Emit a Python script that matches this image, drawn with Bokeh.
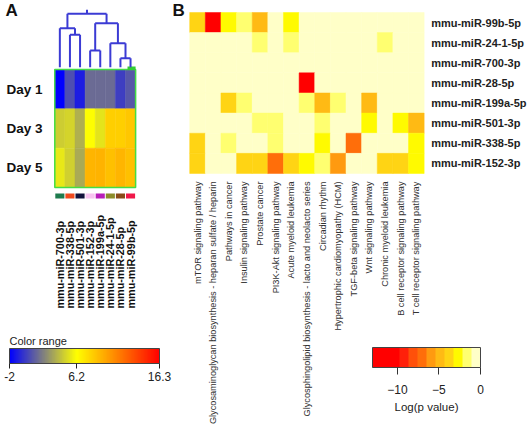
import math
import numpy as np
from bokeh.plotting import figure
from bokeh.layouts import row
from bokeh.models import (ColumnDataSource, LinearColorMapper, ColorBar, FixedTicker,
                          LinearAxis, Range1d)
from bokeh.transform import transform
from bokeh.core.properties import value
from bokeh.embed import file_html
from bokeh.resources import INLINE

FONT = "Liberation Sans"

# ---------------- Panel A data ----------------
mirs_a = ["mmu-miR-700-3p", "mmu-miR-338-5p", "mmu-miR-501-3p", "mmu-miR-152-3p",
          "mmu-miR-199a-5p", "mmu-miR-24-1-5p", "mmu-miR-28-5p", "mmu-miR-99b-5p"]
days = ["Day 1", "Day 3", "Day 5"]
day1 = [-2.0, 0.55, -1.0, 1.5, 1.5, 1.5, 0.05, 0.8]
day3 = [4.6, 4.8, 3.7, 6.2, 5.3, 8.1, 8.1, 8.4]
day5 = [5.5, 4.7, 3.5, 9.1, 9.2, 8.7, 9.1, 8.7]
strip_colors = ["#1E7B4E", "#F04A1E", "#12123C", "#F8C4F0",
                "#B81EB8", "#8C8C2A", "#8A4A18", "#F0184A"]
# dendrogram linkage (left child, right child, height); leaves 0..7, new nodes 8..
linkage = [(1, 2, 8.24), (3, 4, 4.25), (6, 7, 2.29), (5, 10, 6.1),
           (0, 8, 9.92), (9, 11, 11.19), (12, 13, 13.58)]
range_low, range_mid, range_high = -2.0, 6.2, 16.3
range_ticks = [range_low, range_mid, range_high]

# ---------------- Panel B data ----------------
pathways = ["mTOR signaling pathway",
            "Glycosaminoglycan biosynthesis - heparan sulfate / heparin",
            "Pathways in cancer",
            "Insulin signaling pathway",
            "Prostate cancer",
            "PI3K-Akt signaling pathway",
            "Acute myeloid leukemia",
            "Glycosphingolipid biosynthesis - lacto and neolacto series",
            "Circadian rhythm",
            "Hypertrophic cardiomyopathy (HCM)",
            "TGF-beta signaling pathway",
            "Wnt signaling pathway",
            "Chronic myeloid leukemia",
            "B cell receptor signaling pathway",
            "T cell receptor signaling pathway"]
mirs_b = ["mmu-miR-99b-5p", "mmu-miR-24-1-5p", "mmu-miR-700-3p", "mmu-miR-28-5p",
          "mmu-miR-199a-5p", "mmu-miR-501-3p", "mmu-miR-338-5p", "mmu-miR-152-3p"]
lp_99b = [-4, -12, -2.8, -1.6, -5, 0, -2.8, 0, 0, 0, 0, 0, 0, 0, 0]
lp_24 = [0, 0, 0, 0, -1.6, 0, -1.6, 0, 0, 0, 0, 0, -1.6, 0, 0]
lp_700 = [0, 0, 0, 0, 0, 0, 0, 0, 0, 0, 0, 0, 0, 0, 0]
lp_28 = [0, 0, 0, 0, 0, 0, 0, -12, 0, 0, 0, 0, 0, 0, 0]
lp_199a = [0, 0, -4, -1.6, 0, 0, 0, -1.6, -5, -1.6, 0, -5, 0, 0, 0]
lp_501 = [0, 0, 0, 0, -1.6, -1.6, 0, 0, -1.6, 0, 0, -2.8, 0, -2.8, -5]
lp_338 = [-4, 0, -1.6, 0, 0, -1.6, 0, 0, -2.8, 0, -7, 0, 0, 0, -2.8]
lp_152 = [-4, 0, 0, -4, -4, -7, -4, -2.8, -1.6, -6, 0, 0, -4, -4, -2.8]
logp_rows = [lp_99b, lp_24, lp_700, lp_28, lp_199a, lp_501, lp_338, lp_152]
logp_ticks = [-10, -5, 0]
logp_low, logp_high = -13, 0
pal_b = ["#FF0000", "#FF0000", "#FF0000", "#FF200A", "#FF500A", "#FF6E0A",
         "#FF9A10", "#FFBA14", "#FFD414", "#FFFA00", "#FFFF70", "#FFFFC8"]


# ---------------- palettes ----------------
def hexc(rgb):
    return "#%02X%02X%02X" % tuple(int(round(c)) for c in rgb)


def lerp(a, b, t):
    return [a[i] + (b[i] - a[i]) * t for i in range(3)]


BLUE, YEL, RED = (0, 0, 255), (255, 255, 0), (255, 0, 0)
pal_a = []
for v in np.linspace(range_low, range_high, 256):
    if v <= range_mid:
        pal_a.append(hexc(lerp(BLUE, YEL, (v - range_low) / (range_mid - range_low))))
    else:
        pal_a.append(hexc(lerp(YEL, RED, (v - range_mid) / (range_high - range_mid))))

map_a = LinearColorMapper(palette=pal_a, low=range_low, high=range_high)
map_b = LinearColorMapper(palette=pal_b, low=logp_low, high=logp_high)

# ================= Panel A figure =================
pa = figure(width=188, height=426, x_range=Range1d(-5.376, 13.238),
            y_range=Range1d(-6.077, 4.755), output_backend="svg",
            toolbar_location=None, x_axis_location=None, y_axis_location=None,
            min_border=0, outline_line_color=None)
pa.grid.visible = False

xs, ys, vs = [], [], []
for r, vals in enumerate([day1, day3, day5]):
    for c, v in enumerate(vals):
        xs.append(c + 0.5)
        ys.append(2.5 - r)
        vs.append(v)
src_a = ColumnDataSource(dict(x=xs, y=ys, v=vs))
pa.rect(x="x", y="y", width=1, height=1, source=src_a,
        fill_color=transform("v", map_a), line_color=transform("v", map_a), line_width=0.5)
# green frame
pa.rect(x=[4], y=[1.5], width=8, height=3, fill_color=None, line_color="#44DD44", line_width=1.5)
pa.segment(x0=[7.2], y0=[3.03], x1=[8.0], y1=[3.03], line_color="#33CC33", line_width=3.5)

# colour strip
pa.rect(x=[i + 0.5 for i in range(8)], y=[-0.216] * 8, width=0.9, height=0.13,
        fill_color=strip_colors, line_color=None)

# dendrogram
leaf_x = {i: i + 0.5 for i in range(8)}
node_h = {i: 0.0 for i in range(8)}
base, scale = 3.059, 0.1
seg_x0, seg_y0, seg_x1, seg_y1 = [], [], [], []
nid = 8
for a, b, h in linkage:
    xa_, xb_ = leaf_x[a], leaf_x[b]
    for xc, hc in ((xa_, node_h[a]), (xb_, node_h[b])):
        seg_x0.append(xc); seg_y0.append(base + hc * scale)
        seg_x1.append(xc); seg_y1.append(base + h * scale)
    seg_x0.append(xa_); seg_y0.append(base + h * scale)
    seg_x1.append(xb_); seg_y1.append(base + h * scale)
    leaf_x[nid] = (xa_ + xb_) / 2
    node_h[nid] = h
    nid += 1
top = nid - 1
seg_x0.append(leaf_x[top]); seg_y0.append(base + node_h[top] * scale)
seg_x1.append(leaf_x[top]); seg_y1.append(base + (node_h[top] + 1.0) * scale)
pa.segment(x0=seg_x0, y0=seg_y0, x1=seg_x1, y1=seg_y1, line_color="#3B3BD4", line_width=2)

# labels
pa.text(x=[-1.22] * 3, y=[2.5, 1.5, 0.5], text=days, text_align="right",
        text_baseline="middle", text_font=value(FONT), text_font_style="bold",
        text_font_size="13.5px", text_color="#111111")
pa.text(x=[i + 0.5 for i in range(8)], y=[-3.077] * 8, text=mirs_a, angle=math.pi / 2,
        text_align="left", text_baseline="middle", text_font=value(FONT),
        text_font_style="bold", text_font_size="10.8px", text_color="#111111")
pa.text(x=[-4.88, 11.65], y=[4.74, 4.74], text=["A", "B"], text_align="left",
        text_baseline="top", text_font=value(FONT), text_font_style="bold",
        text_font_size="17px", text_color="#111111")

cb_a = ColorBar(color_mapper=map_a, orientation="horizontal", width=150, height=15,
                location=(9, 43), padding=0, ticker=FixedTicker(ticks=range_ticks),
                major_label_overrides={range_low: "-2", range_mid: "6.2", range_high: "16.3"},
                title="Color range", title_text_font=FONT, title_text_font_size="11px",
                title_text_font_style="normal", title_text_color="#222222", title_standoff=3,
                major_label_text_font=FONT, major_label_text_font_size="12px",
                major_label_text_color="#222222",
                major_tick_out=5, major_tick_in=0, major_tick_line_color="#222222",
                bar_line_color="#444444", background_fill_color=None,
                border_line_color=None, label_standoff=3)
pa.add_layout(cb_a)

# ================= Panel B figure =================
pb = figure(width=340, height=426, x_range=Range1d(-0.077, 21.676),
            y_range=Range1d(-12.571, 8.596), output_backend="svg",
            toolbar_location=None, x_axis_location=None, y_axis_location=None,
            min_border=0, outline_line_color=None)
pb.grid.visible = False

bx, by, bv = [], [], []
nrow = len(mirs_b)
for r, vals in enumerate(logp_rows):
    for c, v in enumerate(vals):
        bx.append(c + 0.5)
        by.append(nrow - r - 0.5)
        bv.append(v)
src_b = ColumnDataSource(dict(x=bx, y=by, v=bv))
pb.rect(x="x", y="y", width=1, height=1, source=src_b,
        fill_color=transform("v", map_b), line_color=transform("v", map_b), line_width=0.5)

xax = LinearAxis(fixed_location=0, ticker=FixedTicker(ticks=[i + 0.5 for i in range(len(pathways))]),
                 major_label_overrides={i + 0.5: n for i, n in enumerate(pathways)},
                 major_label_orientation=math.pi / 2, major_label_standoff=8,
                 major_label_text_font=FONT, major_label_text_font_size="9.2px",
                 major_label_text_color="#333333", axis_line_color=None,
                 major_tick_line_color=None, minor_tick_line_color=None,
                 major_tick_out=0, major_tick_in=0)
pb.add_layout(xax, "below")

yax = LinearAxis(fixed_location=len(pathways),
                 ticker=FixedTicker(ticks=[i + 0.5 for i in range(nrow)]),
                 major_label_overrides={nrow - r - 0.5: n for r, n in enumerate(mirs_b)},
                 major_label_standoff=7, major_label_text_font=FONT,
                 major_label_text_font_size="11px", major_label_text_font_style="bold",
                 major_label_text_color="#222222", axis_line_color=None,
                 major_tick_line_color=None, minor_tick_line_color=None,
                 major_tick_out=0, major_tick_in=0)
pb.add_layout(yax, "right")

cb_b = ColorBar(color_mapper=map_b, orientation="horizontal", width=108, height=20,
                location=(184, 30), padding=0, ticker=FixedTicker(ticks=logp_ticks),
                major_label_text_font=FONT, major_label_text_font_size="12px",
                major_label_text_color="#222222",
                major_tick_out=7, major_tick_in=0, major_tick_line_color="#333333",
                bar_line_color="#444444", background_fill_color=None,
                border_line_color=None, label_standoff=10)
pb.add_layout(cb_b)
pb.text(x=[15.15], y=[-11.58], text=["Log(p value)"], text_align="center",
        text_baseline="middle", text_font=value(FONT), text_font_size="11.5px",
        text_color="#222222")

layout = row(pa, pb)
open("out.html", "w").write(file_html(layout, INLINE))
